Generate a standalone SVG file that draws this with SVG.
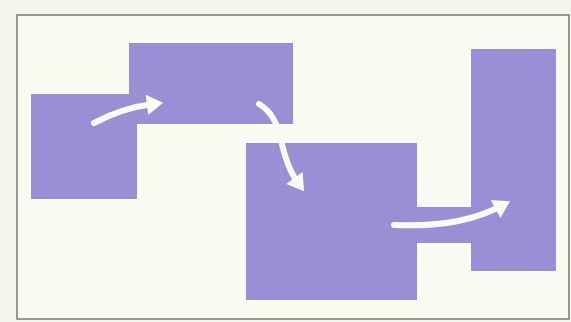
<svg xmlns="http://www.w3.org/2000/svg" width="571" height="322" viewBox="0 0 571 322">
<defs>
<style>
.blk{fill:#9a8fd5;}
.arr{fill:none;stroke:#fbfbf6;stroke-width:6;stroke-linecap:round;}
.hd{fill:#fbfbf6;}
</style>
<marker id="ah" viewBox="0 0 8 10" refX="3" refY="5" markerWidth="3" markerHeight="3.4" orient="auto" markerUnits="strokeWidth">
<path d="M0,0 L8,5 L0,10 Z" class="hd"/>
</marker>
</defs>
<rect x="0" y="0" width="571" height="322" fill="#f6f6ef"/>
<rect x="17" y="15" width="552" height="304" fill="#fbfbf4" stroke="#7a7a76" stroke-width="1.5"/>
<g id="node1"><rect class="blk" x="31" y="94" width="106" height="105"/></g>
<g id="node2"><rect class="blk" x="129" y="43" width="164" height="81"/></g>
<g id="node3"><rect class="blk" x="246" y="143" width="171" height="157"/></g>
<g id="link"><rect class="blk" x="416" y="207" width="56" height="36"/></g>
<g id="node4"><rect class="blk" x="471" y="49" width="85" height="222"/></g>
<g id="connectors">
<path class="arr" marker-end="url(#ah)" d="M94,123 Q122,108 153,104"/>
<path class="arr" marker-end="url(#ah)" d="M259,104 Q276,114 281,140 Q287,168 298,183"/>
<path class="arr" marker-end="url(#ah)" d="M394,225 Q460,228 501,206"/>
</g>
</svg>
